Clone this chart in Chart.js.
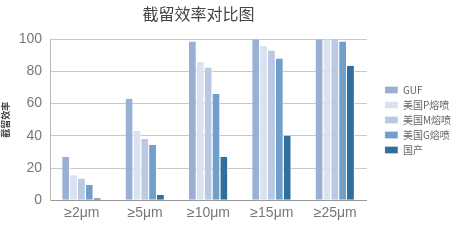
<!DOCTYPE html>
<html>
<head>
<meta charset="utf-8">
<script src="https://cdn.jsdelivr.net/npm/chart.js@4"></script>
<style>
  html, body { margin: 0; padding: 0; background: #fff; }
  #wrap { width: 465px; height: 241px; }
</style>
</head>
<body>
<div id="wrap"><canvas id="chart" width="465" height="241"></canvas></div>
<script>
// 截留效率对比图
const categories = ['≥2μm', '≥5μm', '≥10μm', '≥15μm', '≥25μm'];
const seriesNames = ['GUF', '美国P熔喷', '美国M熔喷', '美国G熔喷', '国产'];
const gufVals = [27, 63, 98.5, 100, 100];
const pVals = [15.5, 43, 86, 96, 100];
const mVals = [13.5, 38, 82.5, 93, 100];
const gVals = [9.5, 34.5, 66, 88, 98.5];
const cnVals = [1.2, 3.3, 27, 40, 83.5];
const yTicks = [0, 20, 40, 60, 80, 100];

const colors = ['#9aafd4', '#dae2f1', '#b9c8e3', '#6f9fca', '#2e6f9e'];
const allVals = [gufVals, pVals, mVals, gVals, cnVals];

const labelFont = "'Liberation Sans', 'Noto Sans CJK SC', sans-serif";
const cjkFont = "'Noto Sans CJK SC', sans-serif";
const legendGap = 13;

// title roughly over the plot, and a gap between plot and legend
const layoutTweaks = {
    id: 'layoutTweaks',
    afterInit(chart) {
        const lg = chart.legend;
        const fit = lg.fit.bind(lg);
        lg.fit = function () { fit(); this.width += legendGap; };
    },
    afterLayout(chart) {
        if (chart.titleBlock) {
            chart.titleBlock.left = chart.chartArea.left - 18;
            chart.titleBlock.right = chart.chartArea.right - 2;
        }
        chart.legend.left += legendGap;
        chart.legend.top += 11;
    }
};

new Chart(document.getElementById('chart').getContext('2d'), {
    type: 'bar',
    data: {
        labels: categories,
        datasets: seriesNames.map((name, i) => ({
            label: name,
            data: allVals[i],
            backgroundColor: colors[i],
            borderColor: '#ffffff',
            borderWidth: { right: 1 },
            borderSkipped: false,
            barPercentage: 1,
            categoryPercentage: 0.62
        }))
    },
    options: {
        responsive: false,
        animation: false,
        layout: { padding: { left: 0, right: 4, top: 2, bottom: 14 } },
        plugins: {
            title: {
                display: true,
                text: '截留效率对比图',
                color: '#444',
                font: { family: cjkFont, size: 16, weight: 'normal' },
                padding: { top: 2, bottom: 16 }
            },
            legend: {
                position: 'right',
                align: 'center',
                labels: {
                    boxWidth: 13,
                    boxHeight: 7,
                    padding: 5,
                    color: '#666',
                    font: { family: cjkFont, size: 10 }
                }
            },
            tooltip: { enabled: false }
        },
        scales: {
            x: {
                grid: { display: false, drawTicks: false },
                border: { color: '#999' },
                ticks: { color: '#777', font: { family: labelFont, size: 14 }, padding: 5 }
            },
            y: {
                min: 0,
                max: 100,
                afterBuildTicks: axis => { axis.ticks = yTicks.map(v => ({ value: v })); },
                grid: { color: '#c8c8c8', drawTicks: false },
                border: { color: '#bbb' },
                ticks: { color: '#777', font: { family: labelFont, size: 14 }, padding: 8 },
                title: {
                    display: true,
                    text: '截留效率',
                    color: '#444',
                    font: { family: cjkFont, size: 9, weight: 'bold' },
                    padding: { top: 0, bottom: 0 }
                }
            }
        }
    },
    plugins: [layoutTweaks]
});
</script>
</body>
</html>
